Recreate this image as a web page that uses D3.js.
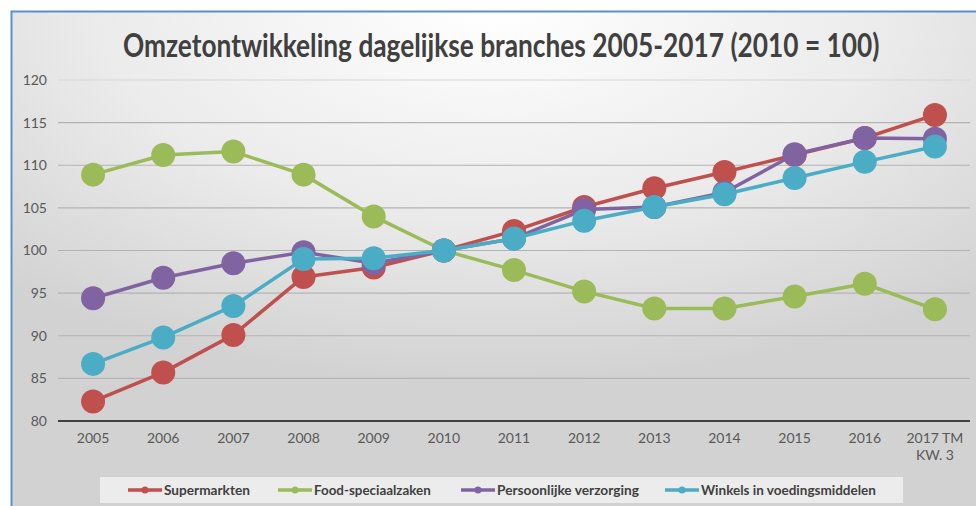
<!DOCTYPE html>
<html>
<head>
<meta charset="utf-8">
<script src="https://cdn.jsdelivr.net/npm/d3@7"></script>
<style>
  html, body { margin: 0; padding: 0; background: #ffffff; }
  svg { display: block; }
  text { font-family: Lato, "DejaVu Sans Condensed", "Open Sans", sans-serif; }
</style>
</head>
<body>
<svg id="chart" width="976" height="506"></svg>
<script>
// Categories (x axis)
const years = ["2005","2006","2007","2008","2009","2010","2011","2012","2013","2014","2015","2016","2017 TM KW. 3"];

// Index values (2010 = 100)
const supermarkten = [82.3, 85.7, 90.1, 96.9, 98.0, 100, 102.3, 105.1, 107.3, 109.2, 111.2, 113.2, 115.9];
const foodSpeciaalzaken = [108.9, 111.2, 111.6, 108.9, 104.0, 100, 97.7, 95.2, 93.2, 93.2, 94.6, 96.1, 93.1];
const persoonlijkeVerzorging = [94.4, 96.8, 98.5, 99.8, 98.5, 100, 101.4, 104.8, 105.1, 106.8, 111.3, 113.2, 113.1];
const winkelsVoeding = [86.7, 89.8, 93.5, 99.0, 99.1, 100, 101.4, 103.5, 105.1, 106.6, 108.5, 110.4, 112.2];

const seriesNames = ["Supermarkten", "Food-speciaalzaken", "Persoonlijke verzorging", "Winkels in voedingsmiddelen"];
const seriesColors = ["#C0504D", "#9BBB59", "#8064A2", "#4BACC6"];
const yTicks = [80, 85, 90, 95, 100, 105, 110, 115, 120];

const seriesData = [supermarkten, foodSpeciaalzaken, persoonlijkeVerzorging, winkelsVoeding];

const svg = d3.select("#chart");
const W = 976, H = 506;

// Squeeze a text element horizontally to a target width, anchored at its left edge
function fitWidth(sel, left, baseline, width) {
  const natural = sel.node().getComputedTextLength();
  const sx = Math.min(1, width / natural);
  sel.attr("x", 0).attr("y", 0)
    .attr("transform", `translate(${left},${baseline}) scale(${sx},1)`);
}

// Chart background with soft radial shading
const defs = svg.append("defs");
const grad = defs.append("radialGradient")
  .attr("id", "bg")
  .attr("cx", "50%").attr("cy", "0%")
  .attr("r", "75%")
  .attr("gradientUnits", "objectBoundingBox");
grad.append("stop").attr("offset", "0%").attr("stop-color", "#ffffff");
grad.append("stop").attr("offset", "55%").attr("stop-color", "#ebebeb");
grad.append("stop").attr("offset", "100%").attr("stop-color", "#d2d2d2");

svg.append("rect")
  .attr("x", 11).attr("y", 11)
  .attr("width", W - 11).attr("height", H - 11)
  .attr("fill", "url(#bg)");

// Blue frame on left and top
svg.append("path")
  .attr("d", `M11.5,${H} L11.5,11.5 L${W},11.5`)
  .attr("fill", "none")
  .attr("stroke", "#5B8FD0")
  .attr("stroke-width", 2);

// Title
const title = svg.append("text")
  .attr("font-size", 32)
  .attr("font-weight", "bold")
  .attr("fill", "#404040")
  .text("Omzetontwikkeling dagelijkse branches 2005-2017 (2010 = 100)");
fitWidth(title, 123, 57, 757);

// Scales
const plotLeft = 58, plotRight = 970, plotTop = 80, plotBottom = 421;
const x = d3.scaleBand().domain(years).range([plotLeft, plotRight]);
const y = d3.scaleLinear().domain([80, 120]).range([plotBottom, plotTop]);
const cx = d => x(d) + x.bandwidth() / 2;

// Gridlines
svg.append("g")
  .selectAll("line")
  .data(yTicks.filter(t => t > 80))
  .join("line")
  .attr("x1", plotLeft).attr("x2", plotRight)
  .attr("y1", d => y(d)).attr("y2", d => y(d))
  .attr("stroke", d => d === 120 ? "#d6d6d6" : "#b3b3b3")
  .attr("stroke-width", 1.2);

// Y axis labels
const yAxis = d3.axisLeft(y).tickValues(yTicks).tickSize(0).tickPadding(0);
const gy = svg.append("g").attr("transform", `translate(47,0)`).call(yAxis);
gy.select(".domain").remove();
gy.selectAll("text")
  .attr("font-size", 14)
  .attr("fill", "#595959")
  .attr("font-family", "Lato, sans-serif");

// X axis line
svg.append("line")
  .attr("x1", plotLeft).attr("x2", plotRight)
  .attr("y1", y(80)).attr("y2", y(80))
  .attr("stroke", "#404040")
  .attr("stroke-width", 2);

// X axis labels (with wrapped final label)
const xl = svg.append("g");
years.forEach(yr => {
  const t = xl.append("text")
    .attr("x", cx(yr)).attr("y", 443)
    .attr("text-anchor", "middle")
    .attr("font-size", 14)
    .attr("fill", "#595959");
  if (yr === "2017 TM KW. 3") {
    t.append("tspan").attr("x", cx(yr)).attr("dy", 0).text("2017 TM");
    t.append("tspan").attr("x", cx(yr)).attr("dy", 17).text("KW. 3");
  } else {
    t.text(yr);
  }
});

// Lines and markers
const line = d3.line()
  .x((d, i) => cx(years[i]))
  .y(d => y(d));

seriesData.forEach((vals, si) => {
  const g = svg.append("g");
  g.append("path")
    .datum(vals)
    .attr("d", line)
    .attr("fill", "none")
    .attr("stroke", seriesColors[si])
    .attr("stroke-width", 3.5)
    .attr("stroke-linejoin", "round");
  g.selectAll("circle")
    .data(vals)
    .join("circle")
    .attr("cx", (d, i) => cx(years[i]))
    .attr("cy", d => y(d))
    .attr("r", 12)
    .attr("fill", seriesColors[si]);
});

// Legend
svg.append("rect")
  .attr("x", 100).attr("y", 477)
  .attr("width", 803).attr("height", 26)
  .attr("fill", "#ececec");

const legendX = [128, 278, 461, 665];
const legendW = [86, 117, 142, 175];
seriesNames.forEach((name, i) => {
  const lx = legendX[i], ly = 490;
  svg.append("line")
    .attr("x1", lx).attr("x2", lx + 34)
    .attr("y1", ly).attr("y2", ly)
    .attr("stroke", seriesColors[i])
    .attr("stroke-width", 3.5);
  svg.append("circle")
    .attr("cx", lx + 17).attr("cy", ly).attr("r", 3.5)
    .attr("fill", seriesColors[i]);
  const lt = svg.append("text")
    .attr("font-size", 14)
    .attr("font-weight", "bold")
    .attr("fill", "#404040")
    .text(name);
  fitWidth(lt, lx + 36, ly + 5, legendW[i]);
});
</script>
</body>
</html>
